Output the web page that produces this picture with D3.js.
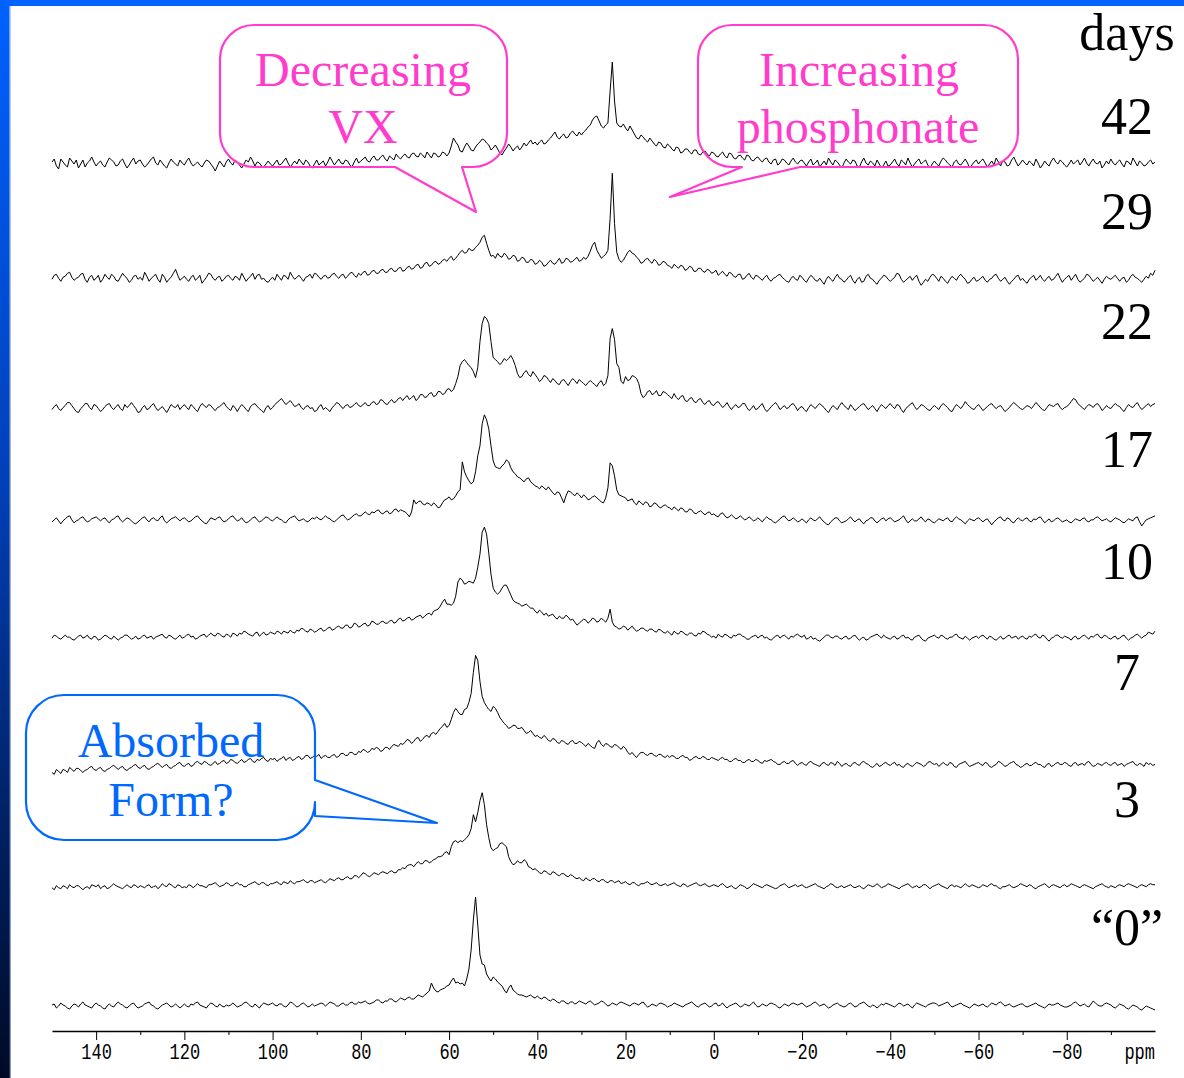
<!DOCTYPE html>
<html>
<head>
<meta charset="utf-8">
<script src="https://cdn.jsdelivr.net/npm/d3@7"></script>
<style>
  html, body { margin: 0; padding: 0; background: #fff; }
  svg { display: block; }
</style>
</head>
<body>
<script>
// chemical shift grid, 150 ppm down to -100 ppm in 0.5 ppm steps
const ppm = d3.range(150, -100.25, -0.5);

// spectra, top to bottom (days of exposure)
const days = ["42", "29", "22", "17", "10", "7", "3", "0"];
const dayLabels = ["42", "29", "22", "17", "10", "7", "3", "\u201C0\u201D"];

const ppmTicks = [140, 120, 100, 80, 60, 40, 20, 0, -20, -40, -60, -80];
const ppmMinor = [130, 110, 90, 70, 50, 30, 10, -10, -30, -50, -70, -90];

// intensities, 20 values per 10 ppm (150 .. -100)
const spec42 = [
  1,4,-3,-6,4,1,-2,-4,5,2,-1,3,-5,-1,3,-4,0,2,6,1,
  -3,0,2,-2,-4,1,5,3,1,-3,-2,2,4,-1,-5,-2,2,5,-1,2,
  3,-1,-4,-2,1,4,6,0,-2,3,0,-3,-5,0,4,1,-1,-3,3,0,
  -2,2,5,0,-3,-1,1,-2,-4,0,3,2,-1,-4,-8,-3,2,-1,-4,1,
  4,0,-2,3,1,-2,-5,-1,3,1,6,2,-3,1,0,-3,-4,-1,2,-1,
  -3,0,3,-2,-1,2,5,0,-4,-1,2,-1,4,1,-2,3,1,-3,-5,-1,
  3,-2,0,2,-3,1,6,2,-2,1,4,0,-1,3,2,-2,-4,1,5,0,
  2,4,6,2,1,5,7,3,3,6,8,4,2,7,5,3,9,6,4,7,
  9,6,5,9,10,7,6,10,8,5,11,8,5,10,9,6,7,11,10,7,
  10,17,25,21,18,12,11,16,20,17,13,12,16,19,21,24,23,20,18,13,
  15,18,14,10,8,12,15,19,16,12,15,17,13,16,20,17,20,23,19,21,
  18,21,23,19,20,23,25,28,31,26,24,27,29,25,26,30,32,29,27,31,
  28,31,33,36,38,43,46,47,42,37,35,38,40,72,101,62,40,37,36,39,
  35,32,37,33,29,25,24,28,26,23,21,25,22,19,17,21,20,16,15,19,
  17,14,12,16,15,10,11,14,14,11,9,13,13,9,8,11,12,9,7,11,
  10,7,6,9,11,7,5,10,9,5,4,7,8,5,3,8,7,3,2,5,
  6,3,1,4,5,1,-1,3,4,-2,0,4,3,0,-2,2,5,1,-1,2,
  3,0,-3,1,4,-2,0,3,-4,-1,2,-2,5,1,-2,3,1,-2,-5,0,
  4,1,-1,3,2,-3,-4,1,5,0,-2,2,0,-3,3,-1,-5,-2,2,-3,
  -2,1,4,-1,-3,3,1,-2,5,0,-4,-1,2,4,-1,1,3,-2,-5,-1,
  2,-1,-3,2,5,3,0,-2,-4,1,3,-1,-2,1,4,0,-5,-2,1,3,
  -1,2,4,0,-4,-1,2,-2,5,1,-3,2,1,-3,-2,3,6,1,-3,0,
  3,0,-2,2,0,-3,4,0,-5,-2,2,-1,-3,2,5,1,-1,3,1,-2,
  -4,-1,3,-1,1,3,-2,1,5,0,-3,1,4,0,-1,2,-5,-2,2,-1,
  4,0,-2,1,3,-1,-4,2,1,-2,5,1,-3,2,0,-3,-2,1,3,-1,
  1
];
const spec29 = [
  4,8,9,5,2,6,7,10,11,6,3,5,6,9,10,4,1,6,8,3,
  5,8,1,4,9,6,4,9,7,3,2,6,10,7,5,1,3,7,8,4,
  6,3,11,7,2,5,7,9,4,1,9,6,1,4,6,10,14,8,3,5,
  7,4,2,6,8,3,5,8,0,3,6,10,9,5,3,6,7,2,4,7,
  8,5,3,7,6,3,10,6,2,5,7,10,4,8,9,4,5,2,1,4,
  6,3,9,6,3,8,7,4,11,7,4,6,8,5,2,6,7,9,5,10,
  9,6,4,7,8,5,6,9,10,7,5,8,9,5,7,10,11,8,6,10,
  8,11,12,8,9,12,13,10,10,13,14,11,11,14,15,12,12,15,16,12,
  13,16,17,14,15,18,19,15,16,20,21,17,18,21,22,19,20,23,24,22,
  25,27,23,25,28,31,33,30,31,35,33,33,36,38,41,46,48,40,33,27,
  28,25,30,27,26,30,28,24,25,28,27,22,23,26,25,21,21,24,23,19,
  20,23,21,17,18,21,23,20,19,22,25,20,21,25,24,21,22,24,26,22,
  23,26,24,27,32,38,41,33,29,25,27,29,33,65,110,60,31,24,21,23,
  27,31,33,30,29,26,24,20,21,24,25,22,20,24,22,18,19,22,21,18,
  17,15,19,17,15,18,17,13,14,17,16,12,12,15,15,12,11,14,13,10,
  11,13,8,10,12,9,7,11,10,7,6,9,9,4,5,8,10,6,4,8,
  7,5,3,6,8,4,2,5,6,8,9,6,4,2,1,5,7,4,3,8,
  6,3,1,5,8,6,3,2,5,2,-1,4,7,4,2,6,9,5,4,1,
  3,6,8,3,0,4,6,1,2,7,9,5,4,1,-1,3,5,8,7,4,
  2,4,6,10,9,4,1,3,5,7,3,6,8,2,-2,1,4,2,6,9,
  8,5,2,7,5,2,0,4,7,5,3,7,9,6,4,0,1,4,6,2,
  3,5,7,3,1,4,5,8,9,5,2,4,6,2,-1,2,4,7,8,3,
  5,2,0,4,6,8,3,5,8,4,2,5,7,3,4,7,10,5,1,4,
  6,8,3,6,9,4,1,3,5,9,8,5,2,4,6,3,0,4,7,5,
  4,6,8,5,2,5,6,1,3,7,9,6,5,3,1,4,7,5,10,8,
  13
];
const spec22 = [
  -6,-3,-1,-5,-7,-4,-2,1,1,-2,-5,-8,-9,-5,-3,0,0,-4,-6,-1,
  -2,-5,-8,-6,-3,-1,0,-4,-6,-3,-1,-5,-7,-1,-4,-2,1,-2,-5,-9,
  -8,-4,-2,-6,-5,-2,0,-4,-7,-5,-3,-6,-9,-5,-1,-3,-4,-1,-6,-3,
  -1,-4,-6,-1,-3,-6,-8,-3,0,-2,-4,-1,-2,-5,-7,-4,-3,-1,1,-3,
  -5,-7,-2,-4,-8,-4,-1,-3,-6,-8,-3,-1,0,-3,-5,-7,-9,-4,-2,-6,
  -4,-1,1,3,5,2,-1,1,3,0,-3,-2,0,-4,-6,-3,-2,-5,-4,-8,
  -7,-3,-1,-6,-4,-6,-8,-4,-2,1,0,-3,-5,-2,-1,-4,-3,-1,1,-2,
  -3,-1,1,-2,-2,1,2,-1,0,4,3,0,-1,2,4,1,2,5,6,3,
  6,8,4,6,8,3,5,9,9,6,7,10,11,7,8,12,12,9,10,14,
  15,12,14,20,27,38,42,44,41,38,36,32,26,36,62,80,87,85,80,62,
  46,44,42,39,41,45,43,45,48,44,38,30,26,27,31,33,29,27,32,29,
  26,22,24,28,27,24,21,25,23,20,19,23,24,21,18,22,25,23,20,24,
  22,20,18,21,23,21,19,17,21,23,18,20,28,65,75,64,40,36,22,20,
  27,23,24,28,27,25,20,10,6,8,12,13,9,10,13,8,8,12,11,9,
  7,5,10,6,4,7,8,3,2,5,6,2,1,4,5,1,-1,2,3,-1,
  -2,1,2,-1,-4,-2,1,-3,-6,-3,-1,-4,-3,0,0,-4,-7,-5,-2,-6,
  -5,-2,0,-5,-8,-6,-3,-1,1,-2,-6,-4,-2,-5,-4,-1,0,-3,-7,-4,
  -3,-6,-8,-4,-1,-3,-5,-2,0,-2,-4,-7,-9,-5,-2,-4,-6,-2,1,-2,
  -4,-6,-1,-4,-7,-5,-3,-1,0,-3,-6,-4,-2,-5,-8,-4,-1,-3,-5,-2,
  0,-3,-5,-1,-2,-6,-9,-5,-3,-1,1,-3,-6,-4,-1,-2,-4,-6,-7,-4,
  -2,-4,-6,-2,0,-2,-4,-7,-8,-4,-1,-3,-5,-2,2,-1,-3,-5,-6,-3,
  -1,-4,-7,-5,-3,-1,0,-3,-5,-3,-2,-5,-8,-6,-4,-1,1,-1,-3,-5,
  -6,-4,-2,-3,-5,-2,1,-1,-4,-6,-7,-4,-1,-2,-3,-1,0,-4,-6,-4,
  -3,-1,2,5,4,0,-2,-4,-6,-3,-1,-2,-4,-1,0,-3,-7,-5,-2,-4,
  -5,-2,0,-2,-3,-6,-8,-4,-1,-3,-4,-1,1,-3,-6,-4,-2,0,-3,-1,
  0
];
const spec17 = [
  2,4,6,3,0,3,5,7,8,4,1,3,4,6,7,4,2,3,5,6,
  7,5,3,5,6,3,1,4,5,7,8,4,2,4,6,5,3,1,0,2,
  4,6,7,4,2,5,6,4,3,6,8,3,1,3,5,6,7,5,3,5,
  6,4,2,3,5,7,8,5,3,1,0,3,6,5,4,6,7,4,2,3,
  5,7,8,5,3,4,6,3,1,2,4,6,7,4,2,3,5,7,6,4,
  3,5,7,5,4,2,1,4,6,7,8,5,3,4,5,3,2,4,6,5,
  7,5,4,6,8,6,5,3,2,4,6,8,9,6,4,5,7,9,10,8,
  8,10,12,10,9,12,11,13,14,11,10,12,13,10,11,14,15,12,14,13,
  12,10,7,12,24,20,22,23,20,19,21,20,18,21,19,16,17,21,24,25,
  27,24,25,28,32,34,62,52,47,43,40,42,52,68,78,100,109,104,95,78,
  63,57,56,55,58,60,64,62,56,52,50,47,46,44,42,45,46,42,40,38,
  37,35,38,36,34,37,34,31,29,32,31,26,21,28,33,32,30,28,31,29,
  26,29,27,24,25,27,28,26,24,22,21,26,36,61,58,48,34,29,28,27,
  26,23,24,25,21,19,23,21,19,22,21,17,18,21,20,17,16,18,19,17,
  16,14,17,15,13,16,15,12,12,15,14,11,10,12,13,11,9,11,12,9,
  10,8,7,10,11,8,6,7,9,7,5,6,8,6,4,5,7,5,3,4,
  6,4,2,5,7,5,4,2,1,3,5,7,8,5,3,4,6,4,2,3,
  5,3,1,4,6,4,3,5,7,4,2,0,-1,2,4,6,6,3,1,2,
  3,5,7,4,2,4,5,2,0,3,4,6,6,3,1,3,5,6,3,5,
  6,4,2,3,4,6,8,4,1,3,5,3,3,5,7,4,2,5,4,2,
  1,3,5,4,3,5,6,3,2,5,7,5,4,2,0,3,5,4,3,5,
  6,4,2,4,5,2,-1,2,4,6,7,4,3,6,5,2,1,4,6,4,
  3,5,6,3,2,5,4,6,7,4,1,3,5,2,3,5,6,4,2,3,
  4,2,1,3,5,4,3,5,6,3,2,4,4,6,7,5,3,4,5,3,
  2,4,6,5,4,2,1,3,5,4,3,6,7,2,-2,1,4,5,6,7,
  8
];
const spec10 = [
  6,9,8,6,5,7,9,7,7,5,4,6,8,9,6,7,9,6,5,8,
  7,4,5,7,9,8,6,5,8,6,4,6,7,9,9,7,5,6,8,5,
  6,8,9,6,7,8,5,7,8,9,10,7,6,9,8,6,5,7,9,6,
  7,9,10,7,8,5,6,8,9,10,7,9,11,9,8,11,10,8,7,10,
  9,7,11,10,8,11,10,13,12,10,9,8,11,12,8,10,12,9,10,12,
  11,10,13,12,10,13,12,11,14,12,11,14,13,16,15,13,12,15,14,12,
  13,15,16,13,14,16,17,14,15,17,18,16,16,19,19,16,17,21,20,17,
  18,20,21,18,19,23,22,20,20,22,23,21,21,23,24,21,22,25,26,23,
  24,26,27,24,25,27,28,29,26,28,30,31,29,33,34,35,38,42,45,40,
  40,39,41,48,62,66,64,60,61,63,62,61,66,77,90,112,117,110,91,70,
  56,52,50,52,56,59,59,54,49,44,42,41,40,38,39,40,38,36,36,33,
  31,34,32,29,31,28,29,30,27,25,28,26,26,29,27,24,25,22,19,21,
  23,25,24,21,23,26,25,22,23,26,24,22,26,35,22,18,17,15,16,18,
  17,14,16,18,15,13,14,16,16,14,13,15,15,13,12,15,14,12,11,13,
  11,9,13,11,10,13,12,10,9,11,11,9,8,11,10,13,12,10,9,7,
  8,6,10,8,7,10,9,7,6,9,8,10,10,8,7,5,5,7,8,9,
  6,8,9,6,7,5,4,6,8,9,6,8,9,7,5,8,7,9,10,8,
  7,9,5,6,8,5,6,4,3,5,7,9,9,7,6,8,8,6,5,7,
  8,5,6,8,9,6,4,6,7,4,5,7,8,9,10,8,6,9,7,6,
  5,7,8,5,6,8,9,6,7,5,4,7,8,9,6,4,3,6,7,8,
  9,7,6,9,8,6,5,7,7,9,10,7,6,5,8,6,4,6,7,8,
  6,8,9,7,5,8,7,5,4,6,8,5,6,8,9,6,7,8,5,7,
  8,6,5,8,7,9,10,7,6,9,8,5,3,6,7,9,9,7,6,8,
  7,6,4,7,8,5,6,8,9,7,5,8,7,9,10,7,6,9,8,6,
  5,7,8,5,6,8,9,6,4,6,7,9,10,8,6,8,9,12,11,10,
  13
];
const spec7 = [
  -8,-10,-5,-7,-9,-5,-6,-8,-3,-5,-7,-4,-4,-6,-8,-6,-5,-3,-2,-5,
  -6,-4,-3,-6,-7,-5,-4,-2,-1,-3,-5,-3,-2,-5,-6,-4,-3,-1,0,-3,
  -4,-2,-1,-4,-5,-3,-2,0,1,-1,-3,-1,0,-3,-4,-2,-1,1,2,-1,
  -2,0,1,-2,-1,2,3,1,0,3,2,0,-1,1,3,0,1,3,4,1,
  2,5,4,2,1,3,5,2,3,5,6,3,2,5,4,6,7,4,3,6,
  5,6,3,5,6,8,4,6,7,4,5,7,8,5,6,9,9,6,7,9,
  8,10,6,8,9,7,7,9,10,7,8,11,11,9,9,12,12,10,10,13,
  12,15,14,12,13,16,15,17,16,13,14,17,17,15,18,20,19,18,21,20,
  22,25,24,21,23,26,27,23,25,28,29,27,31,32,30,33,36,38,41,37,
  39,45,52,56,53,50,50,55,56,62,71,92,109,104,83,68,62,58,55,53,
  58,56,52,47,44,41,39,36,37,39,39,36,36,37,34,31,32,34,31,28,
  29,27,26,29,27,24,23,26,25,22,21,24,23,21,20,23,24,21,21,23,
  22,20,18,21,19,17,16,22,24,20,18,21,20,18,17,20,19,17,15,18,
  16,12,10,12,9,7,10,12,12,10,9,11,11,9,8,10,10,8,7,9,
  7,9,8,6,6,8,9,7,7,4,5,7,8,6,6,8,7,5,5,7,
  6,5,4,6,7,5,5,3,3,5,6,4,4,2,2,4,5,3,3,5,
  4,2,1,4,3,4,5,3,2,0,0,2,3,1,1,3,4,1,-1,1,
  2,0,-1,2,3,1,0,-1,-2,1,2,0,-1,2,1,-1,3,1,-2,0,
  1,-1,-2,1,2,0,-1,2,3,1,0,-2,-3,-1,1,-2,-1,1,2,0,
  -1,1,2,-1,0,-2,-3,0,1,-1,-2,0,2,1,0,-2,-1,2,3,1,
  0,1,-2,0,2,0,-1,2,1,-2,-3,0,1,2,3,0,-2,-1,0,1,
  2,0,-1,2,1,-2,-3,-1,0,3,2,0,-2,-1,1,2,3,0,-1,-3,
  -2,0,1,-1,-1,1,2,0,0,-2,-3,0,1,-2,-1,1,2,0,0,2,
  1,-1,-2,1,2,-1,0,1,-1,2,3,0,-2,-1,1,0,-1,1,2,0,
  -1,1,2,-1,0,1,-2,0,1,2,3,0,-1,1,0,-2,2,0,1,-1,
  0
];
const spec3 = [
  -3,-5,-1,-3,-4,-1,-2,-4,0,-2,-3,-1,-1,-3,-5,-3,-2,-4,0,-1,
  -2,0,-4,-2,-1,-4,-3,-1,1,-1,-2,-3,-4,-2,0,-2,-3,0,-1,-3,
  -1,-2,-3,-1,0,-3,-2,-1,-4,-2,1,-1,-2,1,0,-2,-3,0,-1,-3,
  -2,-3,0,-1,-3,-1,1,-1,-1,-2,-3,0,0,1,2,0,-2,-1,0,2,
  1,-1,-1,1,2,0,0,-2,-2,0,1,2,3,1,0,2,2,0,-1,1,
  1,2,3,1,0,3,2,1,4,2,1,3,3,4,5,3,2,4,4,2,
  3,4,5,3,2,4,6,5,4,6,7,5,5,7,8,6,6,9,9,7,
  9,12,11,9,8,10,12,11,10,12,13,12,11,13,14,12,12,15,15,17,
  16,19,20,20,18,21,23,21,21,24,24,22,23,25,26,28,28,29,32,33,
  30,38,43,44,42,44,43,45,47,50,56,70,63,72,84,92,80,60,47,37,
  34,36,37,41,42,40,38,28,23,20,21,24,22,22,25,23,18,17,15,16,
  14,12,11,14,13,11,10,13,12,10,9,11,11,9,8,10,9,7,6,7,
  5,4,7,5,4,6,6,4,3,5,5,3,2,4,4,2,3,4,1,2,
  3,1,0,2,2,0,-1,1,1,2,3,1,0,1,2,0,-1,0,1,-1,
  0,1,2,0,-1,-2,1,0,-2,-1,0,1,2,0,-1,0,1,-1,-2,-1,
  0,-1,-2,0,1,-1,-3,-2,-1,-3,-4,-2,0,-1,-2,-4,-3,-1,1,0,
  -1,-2,-3,-1,0,-1,-2,-3,-4,-3,-1,0,1,-1,-3,-2,-1,0,-2,-1,
  0,-2,-3,-2,-1,0,1,-1,-2,-3,-4,-2,-1,1,0,-2,-3,-2,-1,-3,
  -2,-1,0,-2,-3,-2,-1,-3,-4,-2,0,-1,-2,-1,1,-1,-3,-2,-1,1,
  0,-1,-2,-3,-4,-2,-1,0,1,-1,-3,-2,-1,-3,-2,0,0,-2,-4,-2,
  -1,0,1,-1,-2,-3,-4,-1,0,-2,-1,-2,-3,-1,1,-1,-2,0,-1,-2,
  -3,-2,0,-1,-2,0,1,-1,-1,-3,-4,-2,-2,-1,0,-2,-3,-2,-1,1,
  0,-1,-2,0,-1,-3,-4,-2,-1,0,1,-1,-3,-1,0,-1,-2,-3,-1,0,
  -2,-1,1,0,-1,-2,-3,-1,0,-1,-2,-3,-4,-2,-1,0,1,-1,-2,-3,
  -1,-2,-3,-1,0,-1,-2,0,1,0,-1,-2,-3,-1,0,-1,-2,0,1,0,
  0
];
const spec0 = [
  0,1,-3,-1,2,0,-1,-3,-4,-1,1,0,-2,1,3,0,-1,-2,-3,0,
  2,0,-1,-3,-4,-1,1,-1,-2,1,3,1,0,-2,-3,-1,1,2,-1,-3,
  -2,-1,1,2,3,0,-1,-3,-4,-2,0,1,2,0,-2,-1,1,-1,-3,-1,
  1,-1,-2,1,0,2,3,0,-1,-2,-3,0,2,1,-1,-2,1,-1,-2,0,
  -1,0,2,0,-2,-1,0,2,3,1,-1,-2,1,-1,-3,0,2,1,0,1,
  2,0,-1,1,1,-1,-2,0,3,2,0,-2,-1,1,2,0,-2,-1,1,-1,
  0,1,2,1,-1,1,3,2,1,-1,-1,1,2,0,0,2,3,1,1,3,
  2,3,4,2,1,2,3,5,5,3,2,4,4,6,6,4,3,5,7,6,
  5,7,8,6,6,8,10,9,8,10,12,14,22,17,14,13,15,16,17,19,
  20,24,27,22,23,21,22,19,26,36,55,85,108,80,50,41,40,31,27,24,
  28,26,23,21,19,15,12,17,20,15,13,11,10,10,9,8,9,10,8,7,
  9,7,6,8,7,5,4,6,5,3,2,4,4,2,1,3,3,1,2,4,
  3,2,1,3,4,2,0,1,2,4,3,1,-1,0,2,1,0,2,3,2,
  1,0,-1,1,2,1,0,2,3,0,-2,-1,1,0,-1,1,2,1,0,-2,
  -1,0,2,1,0,-1,-2,0,1,2,3,1,-1,-2,0,1,2,0,-2,-1,
  1,2,-1,0,2,-1,-3,-1,0,1,2,0,-2,-1,1,0,-1,1,3,0,
  -2,-1,1,0,-1,1,2,1,0,-2,-3,-1,1,0,-1,1,2,1,0,1,
  2,0,-2,-1,0,2,3,1,-1,0,1,-1,-3,-2,0,1,2,0,-1,-2,
  -1,1,2,0,-2,-1,1,2,3,1,-1,-2,0,-1,-3,-1,1,0,2,1,
  0,-1,-2,0,2,1,-1,0,1,-1,-3,0,2,1,0,-1,-2,0,1,2,
  2,1,-1,0,1,2,3,0,-2,-1,0,1,2,0,-1,-2,-3,-1,1,0,
  -1,0,1,-1,-2,0,2,1,0,2,3,1,-1,0,1,-1,-2,-1,0,1,
  1,-1,-2,-1,0,1,2,0,-1,-2,-3,-1,1,0,0,1,2,0,-1,-2,
  -2,-1,0,2,3,1,-1,0,1,-1,-2,1,4,2,0,-1,-1,1,2,1,
  0,-2,-3,-1,1,0,-1,-3,-4,-2,0,-1,-2,-4,-5,-3,-1,-2,-3,-4,
  -5
];

const spectra = [spec42, spec29, spec22, spec17, spec10, spec7, spec3, spec0];

const width = 1184;
const height = 1078;

const svg = d3.select('body')
    .append('svg')
        .attr('width', width)
        .attr('height', height);

// slide frame: blue bar on top, blue-to-navy bar on the left
const defs = svg.append('defs');
const barGrad = defs.append('linearGradient')
    .attr('id', 'leftBar').attr('x1', 0).attr('y1', 0).attr('x2', 0).attr('y2', 1);
barGrad.append('stop').attr('offset', '0%').attr('stop-color', '#0062ff');
barGrad.append('stop').attr('offset', '45%').attr('stop-color', '#0040b8');
barGrad.append('stop').attr('offset', '100%').attr('stop-color', '#000a24');
const edgeGrad = defs.append('linearGradient')
    .attr('id', 'leftEdge').attr('x1', 0).attr('y1', 0).attr('x2', 0).attr('y2', 1);
edgeGrad.append('stop').attr('offset', '0%').attr('stop-color', '#6ea2ff');
edgeGrad.append('stop').attr('offset', '100%').attr('stop-color', '#1c3466');

svg.append('rect').attr('x', 0).attr('y', 0).attr('width', 9).attr('height', height)
    .attr('fill', 'url(#leftBar)');
svg.append('rect').attr('x', 9).attr('y', 6).attr('width', 1.5).attr('height', height - 6)
    .attr('fill', 'url(#leftEdge)');
svg.append('rect').attr('x', 0).attr('y', 0).attr('width', width).attr('height', 6)
    .attr('fill', '#0062ff');

// scales
const xScale = d3.scaleLinear()
    .domain([150, -100])
    .range([52, 1155]);

const baseScale = d3.scalePoint()
    .domain(days)
    .range([163, 1005]);

const hScale = d3.scaleLinear()
    .domain([0, 100])
    .range([0, 100]);

// stacked spectra
const g = svg.append('g');
spectra.forEach((values, k) => {
    const y0 = baseScale(days[k]);
    const line = d3.line()
        .defined((d, i) => i < ppm.length)
        .x((d, i) => xScale(ppm[i]))
        .y((d) => y0 - hScale(d));
    g.append('path')
        .datum(values)
        .attr('fill', 'none')
        .attr('stroke', '#000')
        .attr('stroke-width', 1)
        .attr('stroke-linejoin', 'round')
        .attr('d', line);
});

// ppm axis
const axisY = 1031;
const mono = '"Liberation Mono", "DejaVu Sans Mono", monospace';
const axis = svg.append('g')
    .attr('transform', `translate(0, ${axisY})`)
    .call(d3.axisBottom(xScale)
        .tickValues(ppmTicks)
        .tickSize(9)
        .tickSizeOuter(0)
        .tickFormat(d3.format('d')));
axis.select('.domain').attr('stroke', '#000').attr('stroke-width', 1.6);
axis.selectAll('.tick line').attr('stroke', '#000').attr('stroke-width', 1);
axis.selectAll('.tick text')
    .attr('fill', '#000')
    .attr('y', 0)
    .attr('dy', 0)
    .attr('transform', 'translate(0, 28) scale(1, 1.25)')
    .style('font-family', mono)
    .style('font-size', '17px');

const minor = svg.append('g')
    .attr('transform', `translate(0, ${axisY})`)
    .call(d3.axisBottom(xScale)
        .tickValues(ppmMinor)
        .tickSize(4)
        .tickSizeOuter(0)
        .tickFormat(''));
minor.select('.domain').remove();
minor.selectAll('.tick line').attr('stroke', '#000').attr('stroke-width', 1);

svg.append('text')
    .attr('transform', `translate(1155, ${axisY + 28}) scale(1, 1.25)`)
    .attr('text-anchor', 'end')
    .style('font-family', mono)
    .style('font-size', '17px')
    .text('ppm');

// day labels on the right
const serif = '"Liberation Serif", "Times New Roman", serif';
const labelY = [134, 229, 339, 467, 579, 690, 817, 945];
svg.append('text')
    .attr('x', 1127).attr('y', 50)
    .attr('text-anchor', 'middle')
    .style('font-family', serif).style('font-size', '52px')
    .text('days');
svg.selectAll('.dayLabel')
    .data(dayLabels)
    .enter()
    .append('text')
        .attr('class', 'dayLabel')
        .attr('x', 1127)
        .attr('y', (d, i) => labelY[i])
        .attr('text-anchor', 'middle')
        .style('font-family', serif)
        .style('font-size', '52px')
        .text((d) => d);

// speech-bubble callouts
function bubble(x0, y0, x1, y1, r, tail) {
    const p = d3.path();
    p.moveTo(x0 + r, y0);
    p.lineTo(x1 - r, y0);
    p.arcTo(x1, y0, x1, y0 + r, r);
    if (tail.side === 'right') {
        tail.pts.forEach((pt) => p.lineTo(pt[0], pt[1]));
    }
    p.lineTo(x1, y1 - r);
    p.arcTo(x1, y1, x1 - r, y1, r);
    if (tail.side === 'bottom') {
        tail.pts.forEach((pt) => p.lineTo(pt[0], pt[1]));
    }
    p.lineTo(x0 + r, y1);
    p.arcTo(x0, y1, x0, y1 - r, r);
    p.lineTo(x0, y0 + r);
    p.arcTo(x0, y0, x0 + r, y0, r);
    p.closePath();
    return p.toString();
}

const pink = '#ff3ccc';
const blue = '#0068ff';

const callouts = [
    { box: [220, 25, 507, 167], r: 34, color: pink,
      tail: { side: 'bottom', pts: [[462, 167], [476, 212], [395, 167]] },
      lines: [['Decreasing', 363, 86], ['VX', 363, 143]] },
    { box: [698, 25, 1018, 167], r: 34, color: pink,
      tail: { side: 'bottom', pts: [[800, 167], [670, 197], [742, 167]] },
      lines: [['Increasing', 859, 86], ['phosphonate', 858, 143]] },
    { box: [26, 695, 315, 840], r: 38, color: blue,
      tail: { side: 'right', pts: [[315, 780], [437, 823], [315, 816]] },
      lines: [['Absorbed', 171, 757], ['Form?', 171, 816]] }
];

callouts.forEach((c) => {
    svg.append('path')
        .attr('d', bubble(c.box[0], c.box[1], c.box[2], c.box[3], c.r, c.tail))
        .attr('fill', 'none')
        .attr('stroke', c.color)
        .attr('stroke-width', 2.2)
        .attr('stroke-linejoin', 'round');
    c.lines.forEach((l) => {
        svg.append('text')
            .attr('x', l[1]).attr('y', l[2])
            .attr('text-anchor', 'middle')
            .style('font-family', serif)
            .style('font-size', '48px')
            .attr('fill', c.color)
            .text(l[0]);
    });
});
</script>
</body>
</html>
